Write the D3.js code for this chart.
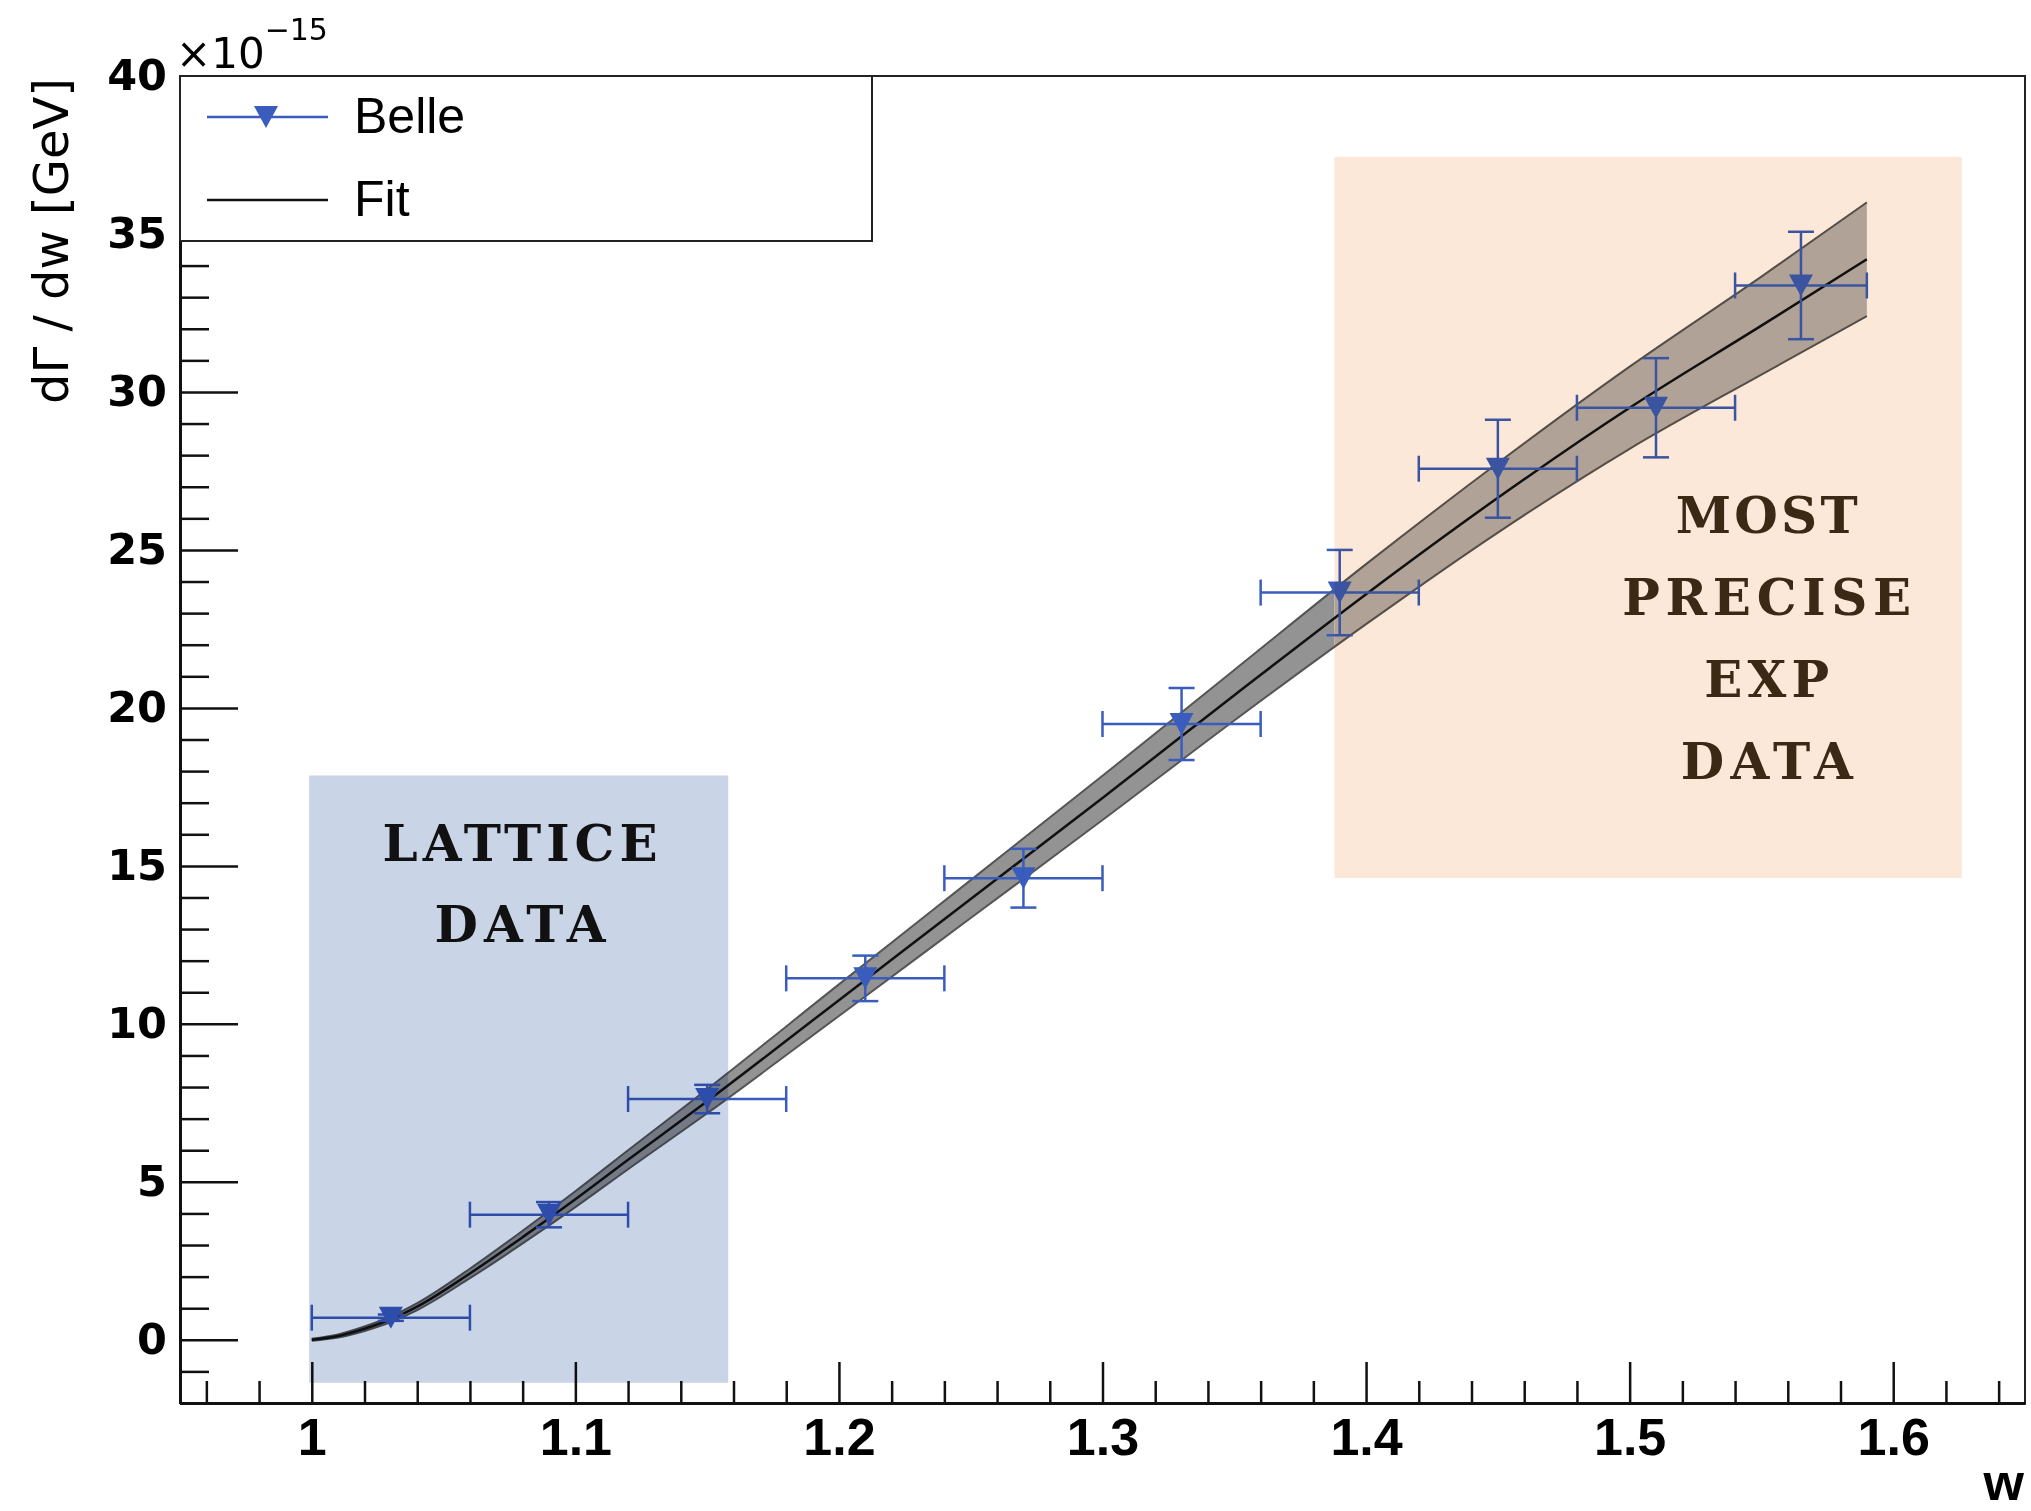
<!DOCTYPE html>
<html>
<head>
<meta charset="utf-8">
<script src="https://cdn.jsdelivr.net/npm/d3@7"></script>
<style>
body { margin: 0; background: #fff; }
svg { display: block; }
</style>
</head>
<body>
<div id="chart"></div>
<script>
// fit curve (central value and half width of the band)
var fitW   = [1.00, 1.01, 1.02, 1.03, 1.04, 1.06, 1.08, 1.10, 1.12, 1.15, 1.20, 1.25, 1.30, 1.35, 1.40, 1.45, 1.50, 1.55, 1.59];
var fitY   = [0.00, 0.12, 0.35, 0.65, 1.05, 2.10, 3.25, 4.45, 5.70, 7.55, 10.75, 13.95, 17.15, 20.40, 23.60, 26.65, 29.50, 32.10, 34.20];
var fitErr = [0.03, 0.05, 0.07, 0.09, 0.11, 0.15, 0.20, 0.25, 0.30, 0.38, 0.50, 0.60, 0.70, 0.80, 0.95, 1.10, 1.30, 1.55, 1.80];

// Belle points
var belleW    = [1.03, 1.09, 1.15, 1.21, 1.27, 1.33, 1.39, 1.45, 1.51, 1.565];
var belleWLow = [1.00, 1.06, 1.12, 1.18, 1.24, 1.30, 1.36, 1.42, 1.48, 1.54];
var belleWHi  = [1.06, 1.12, 1.18, 1.24, 1.30, 1.36, 1.42, 1.48, 1.54, 1.59];
var belleY    = [0.70, 3.96, 7.62, 11.44, 14.61, 19.49, 23.65, 27.57, 29.50, 33.37];
var belleErr  = [0.10, 0.40, 0.45, 0.72, 0.93, 1.14, 1.35, 1.55, 1.57, 1.70];

// highlighted regions [wMin, wMax, yMin, yMax]
var latticeBox = [0.999, 1.158, -1.36, 17.86];
var expBox = [1.388, 1.626, 14.61, 37.44];
var latticeText = ["LATTICE", "DATA"];
var expText = ["MOST", "PRECISE", "EXP", "DATA"];

var xMajor = [1.0, 1.1, 1.2, 1.3, 1.4, 1.5, 1.6];
var yMajor = [0, 5, 10, 15, 20, 25, 30, 35, 40];

var svgWidth = 2031;
var svgHeight = 1511;

var x = d3.scaleLinear().domain([0.95, 1.65]).range([180, 2025]);
var y = d3.scaleLinear().domain([-2, 40]).range([1403, 76]);

var svg = d3.select("#chart")
  .append("svg")
  .attr("width", svgWidth)
  .attr("height", svgHeight);

svg.append("rect")
  .attr("width", svgWidth)
  .attr("height", svgHeight)
  .attr("fill", "#fff");

var fit = fitW.map(function(w, i) {
    return {w: w, y: fitY[i], e: fitErr[i]};
});

var points = belleW.map(function(w, i) {
    return {w: w, lo: belleWLow[i], hi: belleWHi[i], y: belleY[i], e: belleErr[i]};
});

// clip paths: inside / outside of the experimental box
var defs = svg.append("defs");
defs.append("clipPath").attr("id", "inExp")
  .append("rect")
  .attr("x", x(expBox[0]))
  .attr("y", y(expBox[3]))
  .attr("width", x(expBox[1]) - x(expBox[0]))
  .attr("height", y(expBox[2]) - y(expBox[3]));
defs.append("clipPath").attr("id", "outExp")
  .append("path")
  .attr("clip-rule", "evenodd")
  .attr("d", "M0,0H" + svgWidth + "V" + svgHeight + "H0Z" +
    "M" + x(expBox[0]) + "," + y(expBox[3]) + "H" + x(expBox[1]) + "V" + y(expBox[2]) + "H" + x(expBox[0]) + "Z");

// frame
svg.append("rect")
  .attr("x", x(0.95))
  .attr("y", y(40))
  .attr("width", x(1.65) - x(0.95))
  .attr("height", y(-2) - y(40))
  .attr("fill", "none")
  .attr("stroke", "#222")
  .attr("stroke-width", 2);

// error band of the fit
var area = d3.area()
  .x(d => x(d.w))
  .y0(d => y(d.y - d.e))
  .y1(d => y(d.y + d.e))
  .curve(d3.curveMonotoneX);

svg.append("path")
  .datum(fit)
  .attr("d", area)
  .attr("clip-path", "url(#outExp)")
  .attr("fill", "#939393");
svg.append("path")
  .datum(fit)
  .attr("d", area)
  .attr("clip-path", "url(#inExp)")
  .attr("fill", "#b2b2b2");

var upper = d3.line().x(d => x(d.w)).y(d => y(d.y + d.e)).curve(d3.curveMonotoneX);
var lower = d3.line().x(d => x(d.w)).y(d => y(d.y - d.e)).curve(d3.curveMonotoneX);
var central = d3.line().x(d => x(d.w)).y(d => y(d.y)).curve(d3.curveMonotoneX);

svg.append("path").datum(fit).attr("d", upper)
  .attr("fill", "none").attr("stroke", "#555").attr("stroke-width", 2);
svg.append("path").datum(fit).attr("d", lower)
  .attr("fill", "none").attr("stroke", "#555").attr("stroke-width", 2);
svg.append("path").datum(fit).attr("d", central)
  .attr("fill", "none").attr("stroke", "#111").attr("stroke-width", 2.5);

// Belle data with error bars
var blue = "#3a5cbd";
var cap = 13;
var pts = svg.append("g")
  .attr("stroke", blue)
  .attr("stroke-width", 2.5);

points.forEach(function(d) {
    pts.append("line")
      .attr("x1", x(d.lo)).attr("x2", x(d.hi))
      .attr("y1", y(d.y)).attr("y2", y(d.y));
    pts.append("line")
      .attr("x1", x(d.lo)).attr("x2", x(d.lo))
      .attr("y1", y(d.y) - cap).attr("y2", y(d.y) + cap);
    pts.append("line")
      .attr("x1", x(d.hi)).attr("x2", x(d.hi))
      .attr("y1", y(d.y) - cap).attr("y2", y(d.y) + cap);
    pts.append("line")
      .attr("x1", x(d.w)).attr("x2", x(d.w))
      .attr("y1", y(d.y + d.e)).attr("y2", y(d.y - d.e));
    pts.append("line")
      .attr("x1", x(d.w) - cap).attr("x2", x(d.w) + cap)
      .attr("y1", y(d.y + d.e)).attr("y2", y(d.y + d.e));
    pts.append("line")
      .attr("x1", x(d.w) - cap).attr("x2", x(d.w) + cap)
      .attr("y1", y(d.y - d.e)).attr("y2", y(d.y - d.e));
});

var triangle = "M-12,-11L12,-11L0,11Z";
svg.selectAll(".marker")
  .data(points)
  .enter()
  .append("path")
  .attr("class", "marker")
  .attr("d", triangle)
  .attr("transform", d => "translate(" + x(d.w) + "," + y(d.y) + ")")
  .attr("fill", blue);

// axes
var yMinor = d3.range(-2, 41).filter(v => v % 5 != 0);
var xMinor = d3.range(48, 83).map(v => v / 50).filter(v => Math.round(v * 50) % 5 != 0);

var yAxis = svg.append("g")
  .attr("transform", "translate(" + x(0.95) + ",0)")
  .call(d3.axisLeft(y).tickValues(yMajor).tickSize(-58).tickSizeOuter(0).tickPadding(13).tickFormat(d3.format("d")));
svg.append("g")
  .attr("transform", "translate(" + x(0.95) + ",0)")
  .call(d3.axisLeft(y).tickValues(yMinor).tickSize(-29).tickSizeOuter(0).tickFormat(""));

var xAxis = svg.append("g")
  .attr("transform", "translate(0," + y(-2) + ")")
  .call(d3.axisBottom(x).tickValues(xMajor).tickSize(-41).tickSizeOuter(0).tickPadding(15).tickFormat(d3.format("")));
svg.append("g")
  .attr("transform", "translate(0," + y(-2) + ")")
  .call(d3.axisBottom(x).tickValues(xMinor).tickSize(-22).tickSizeOuter(0).tickFormat(""));

svg.selectAll(".domain").attr("stroke", "#111").attr("stroke-width", 3);
svg.selectAll(".tick line").attr("stroke", "#111").attr("stroke-width", 2.5);

yAxis.selectAll("text")
  .attr("font-family", "DejaVu Sans")
  .attr("font-weight", "bold")
  .attr("font-size", 43)
  .attr("fill", "#000");
xAxis.selectAll("text")
  .attr("font-family", "Liberation Sans")
  .attr("font-weight", "bold")
  .attr("font-size", 52)
  .attr("fill", "#000");

// shaded regions, multiplied over the plot
svg.append("rect")
  .attr("x", x(latticeBox[0]))
  .attr("y", y(latticeBox[3]))
  .attr("width", x(latticeBox[1]) - x(latticeBox[0]))
  .attr("height", y(latticeBox[2]) - y(latticeBox[3]))
  .attr("fill", "#cad4e7")
  .style("mix-blend-mode", "multiply");

svg.append("rect")
  .attr("x", x(expBox[0]))
  .attr("y", y(expBox[3]))
  .attr("width", x(expBox[1]) - x(expBox[0]))
  .attr("height", y(expBox[2]) - y(expBox[3]))
  .attr("fill", "#fce8d8")
  .style("mix-blend-mode", "multiply");

var latticeWidths = [275, 171];
svg.selectAll(".lat")
  .data(latticeText)
  .enter()
  .append("text")
  .attr("class", "lat")
  .attr("x", x(1.079))
  .attr("y", (d, i) => y(15.15 - i * 2.55))
  .attr("text-anchor", "middle")
  .attr("textLength", (d, i) => latticeWidths[i])
  .attr("lengthAdjust", "spacing")
  .attr("font-family", "DejaVu Serif")
  .attr("font-weight", "bold")
  .attr("font-size", 50)
  .attr("fill", "#111")
  .text(d => d);

var expWidths = [182, 289, 125, 172];
svg.selectAll(".exp")
  .data(expText)
  .enter()
  .append("text")
  .attr("class", "exp")
  .attr("x", x(1.552))
  .attr("y", (d, i) => y(25.55 - i * 2.6))
  .attr("text-anchor", "middle")
  .attr("textLength", (d, i) => expWidths[i])
  .attr("lengthAdjust", "spacing")
  .attr("font-family", "DejaVu Serif")
  .attr("font-weight", "bold")
  .attr("font-size", 50)
  .attr("fill", "#3b2916")
  .text(d => d);

// legend
var legend = svg.append("g");
legend.append("rect")
  .attr("x", 180).attr("y", 76)
  .attr("width", 692).attr("height", 165)
  .attr("fill", "#fff")
  .attr("stroke", "#222")
  .attr("stroke-width", 2);
legend.append("line")
  .attr("x1", 207).attr("x2", 328).attr("y1", 117).attr("y2", 117)
  .attr("stroke", blue).attr("stroke-width", 2.5);
legend.append("path")
  .attr("d", triangle)
  .attr("transform", "translate(266,117)")
  .attr("fill", blue);
legend.append("line")
  .attr("x1", 207).attr("x2", 328).attr("y1", 200).attr("y2", 200)
  .attr("stroke", "#111").attr("stroke-width", 2.5);
legend.append("text")
  .attr("x", 354).attr("y", 133)
  .attr("font-family", "Liberation Sans").attr("font-size", 50)
  .text("Belle");
legend.append("text")
  .attr("x", 354).attr("y", 216)
  .attr("font-family", "Liberation Sans").attr("font-size", 50)
  .text("Fit");

// titles
var expo = svg.append("text")
  .attr("x", 176).attr("y", 68)
  .attr("font-family", "DejaVu Sans").attr("font-size", 42);
expo.append("tspan").text("\u00d710");
expo.append("tspan").attr("dy", -28).attr("font-size", 30).text("\u221215");

svg.append("text")
  .attr("transform", "translate(68,78) rotate(-90)")
  .attr("text-anchor", "end")
  .attr("font-family", "DejaVu Sans")
  .attr("font-size", 48)
  .text("d\u0393 / dw [GeV]");

svg.append("text")
  .attr("x", 2024).attr("y", 1500)
  .attr("text-anchor", "end")
  .attr("font-family", "Liberation Sans")
  .attr("font-weight", "bold")
  .attr("font-size", 52)
  .text("w");
</script>
</body>
</html>
